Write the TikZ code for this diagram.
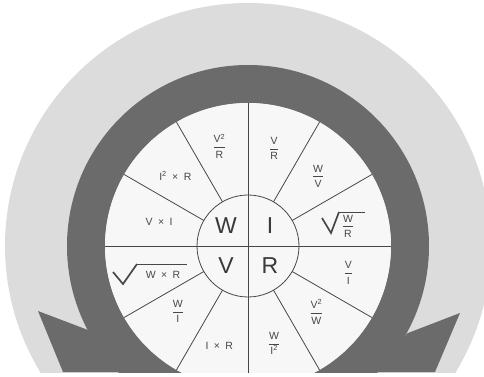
\documentclass[tikz,border=0pt]{standalone}
\usepackage{amsmath}
\usepackage{fontspec}
\setmainfont{Liberation Sans}
\usetikzlibrary{calc}

\definecolor{bggray}{HTML}{DCDCDC}
\definecolor{omegagray}{HTML}{6B6B6B}
\definecolor{wheelfill}{HTML}{F7F7F7}
\definecolor{inkgray}{HTML}{474747}

\newcommand{\wfrac}[2]{$\dfrac{\text{#1}\rule[-2pt]{0pt}{2pt}}{\rule{0pt}{9pt}\text{#2}}$}
\newcommand{\wtimes}{\hspace{2.5pt} × \hspace{2.5pt}}

\begin{document}
\begin{tikzpicture}[x=1pt, y=1pt,
    cellnode/.style={
        font=\fontsize{10.5}{12}\selectfont, text=inkgray,
        inner sep=1pt, align=center
    },
    corenode/.style={
        font=\fontsize{23}{26}\selectfont, text=inkgray!80!black,
        inner sep=0pt
    },
    spoke/.style={draw=inkgray, line width=0.8pt},
    rootmark/.style={draw=inkgray, line width=1.7pt, line join=miter},
    rootbar/.style={draw=inkgray, line width=0.8pt}
]
\path[use as bounding box] (-248,-131) rectangle (236,246);

\begin{scope}
\clip (-248,-126) rectangle (236,246);
% Light backdrop disc
\fill[bggray] (0,0) circle (243pt);

% Omega ring and its two feet
\fill[omegagray, even odd rule] (0,0) circle (181pt) (0,0) circle (143pt);
\fill[omegagray] (-210,-65) -- (-160,-84) -- (-120,-126) -- (-185,-126) -- cycle;
\fill[omegagray] (212,-67) -- (160,-87) -- (120,-126) -- (187,-126) -- cycle;

% Wheel and its twelve cells
\fill[wheelfill] (0,0) circle (143pt);
\draw[spoke] (-143,0) -- (143,0);
\draw[spoke] (0,143) -- (0,-143);
\draw[spoke] (30:51)  -- (30:143);
\draw[spoke] (60:51)  -- (60:143);
\draw[spoke] (120:51) -- (120:143);
\draw[spoke] (150:51) -- (150:143);
\draw[spoke] (210:51) -- (210:143);
\draw[spoke] (240:51) -- (240:143);
\draw[spoke] (300:51) -- (300:143);
\draw[spoke] (330:51) -- (330:143);
\draw[spoke] (0,0) circle (51pt);
\end{scope}

% Centre letters
\node[corenode] (W) at (-22, 20)  {W};
\node[corenode] (I) at (22, 20)   {I};
\node[corenode] (V) at (-22, -20) {V};
\node[corenode] (R) at (22, -20)  {R};

% Formula cells, anticlockwise from the top
\node[cellnode] (vr)    at (75:101)   {\wfrac{V}{R}};
\node[cellnode] (wv)    at (45:99)    {\wfrac{W}{V}};
\node[cellnode] (sqwr)  at (100,20)   {\wfrac{W}{R}};
\node[cellnode] (vi)    at (-15:104)  {\wfrac{V}{I}};
\node[cellnode] (v2w)   at (-44:95)   {\wfrac{V\textsuperscript{2}}{W}};
\node[cellnode] (wi2)   at (-75:101)  {\wfrac{W}{I\textsuperscript{2}}};
\node[cellnode] (ir)    at (-106:104) {I\wtimes R};
\node[cellnode] (wi)    at (-137:96)  {\wfrac{W}{I}};
\node[cellnode] (sqwxr) at (-85,-29)  {W\wtimes R};
\node[cellnode] (vxi)   at (165:92)   {V\wtimes I};
\node[cellnode] (i2r)   at (136:101)  {I\textsuperscript{2}\wtimes R};
\node[cellnode] (v2r)   at (106:104)  {\wfrac{V\textsuperscript{2}}{R}};

% Root signs
\draw[rootmark] ($(sqwr)+(-26,8)$) -- ($(sqwr)+(-17,-7)$) -- ($(sqwr)+(-9,14)$);
\draw[rootbar]  ($(sqwr)+(-9,14)$) -- ($(sqwr)+(17,14)$);
\draw[rootmark] ($(sqwxr)+(-50,3)$) -- ($(sqwxr)+(-40,-9)$) -- ($(sqwxr)+(-26,11)$);
\draw[rootbar]  ($(sqwxr)+(-26,11)$) -- ($(sqwxr)+(24,11)$);
\end{tikzpicture}
\end{document}
